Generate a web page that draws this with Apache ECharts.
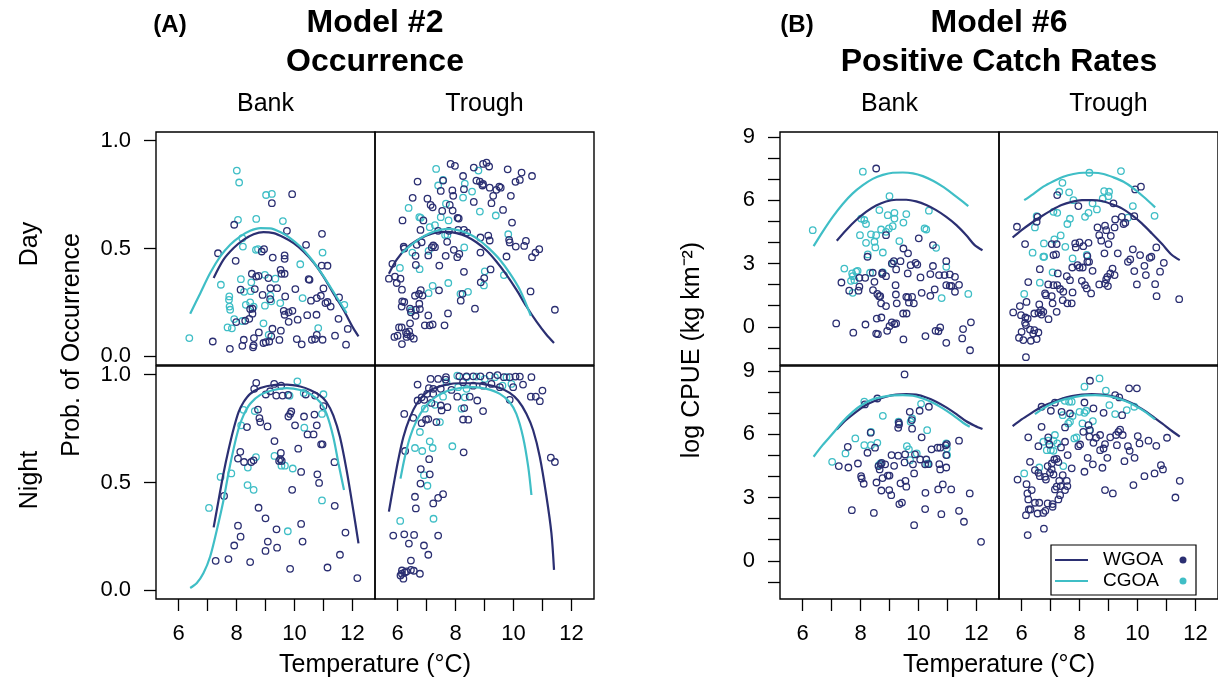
<!DOCTYPE html>
<html>
<head>
  <meta charset="utf-8">
</head>
<body style="margin: 0; width: 1218px; height: 683px; background: #fff;">
  <div id="main" style="width: 1218px; height: 683px;"></div>
  <script src="https://cdn.jsdelivr.net/npm/echarts@6/dist/echarts.min.js"></script>
  <script>
    // axis ticks / labels
    var tempTicks = [6, 7, 8, 9, 10, 11, 12];
    var tempLabels = [6, 8, 10, 12];
    var occTicks = [0, 0.5, 1];
    var cpueTicks = [-1, 0, 1, 2, 3, 4, 5, 6, 7, 8, 9];
    var cpueLabels = [0, 3, 6, 9];

    // ---- (A) Model #2 occurrence : [temperature, probability] ----
    var occBankDayW = [[7.36,0.478],[7.92,0.610],[7.97,0.443],[9.22,0.710],[9.92,0.752],[8.87,0.486],[8.95,0.497],[9.25,0.458],[9.66,0.468],[9.66,0.452],[9.74,0.582],[10.40,0.517],[10.95,0.568],[10.94,0.421],[11.14,0.420],[8.53,0.383],[8.76,0.373],[8.68,0.370],[9.10,0.363],[9.52,0.401],[9.55,0.383],[9.66,0.383],[10.49,0.358],[10.52,0.355],[8.14,0.309],[8.63,0.312],[9.17,0.316],[9.40,0.316],[8.90,0.285],[9.16,0.265],[9.68,0.278],[10.03,0.312],[11.00,0.315],[10.57,0.258],[10.77,0.270],[10.91,0.281],[11.07,0.247],[11.14,0.252],[11.25,0.231],[11.54,0.273],[11.84,0.127],[11.52,0.174],[8.47,0.219],[8.55,0.221],[8.55,0.198],[8.44,0.174],[8.30,0.165],[7.99,0.159],[9.63,0.211],[9.66,0.193],[9.80,0.204],[9.93,0.211],[9.80,0.160],[10.11,0.170],[10.44,0.191],[10.76,0.193],[7.18,0.069],[7.77,0.035],[8.20,0.049],[8.25,0.077],[8.57,0.042],[8.59,0.051],[8.60,0.085],[8.77,0.111],[8.93,0.062],[9.01,0.066],[9.13,0.069],[9.20,0.093],[9.24,0.128],[9.48,0.076],[9.53,0.119],[10.08,0.080],[10.25,0.056],[10.60,0.077],[10.71,0.080],[10.77,0.100],[10.97,0.077],[11.40,0.096],[11.78,0.054]];
    var occBankDayC = [[6.37,0.085],[8.01,0.861],[8.09,0.806],[9.02,0.748],[9.22,0.753],[8.05,0.633],[8.68,0.637],[9.60,0.627],[8.20,0.548],[8.22,0.509],[8.67,0.494],[8.74,0.497],[10.97,0.481],[10.20,0.427],[7.46,0.332],[8.15,0.358],[8.51,0.343],[7.75,0.278],[7.74,0.262],[7.76,0.231],[7.78,0.216],[8.26,0.299],[8.49,0.302],[8.32,0.239],[8.47,0.250],[8.59,0.231],[8.98,0.378],[9.17,0.282],[9.20,0.255],[9.51,0.247],[8.98,0.235],[10.28,0.270],[11.72,0.239],[7.92,0.173],[7.69,0.134],[7.84,0.130],[8.20,0.164],[8.93,0.153],[9.11,0.100],[10.82,0.131],[9.34,0.360]];
    var occBankDayFitW = [[7.21,0.363],[7.55,0.448],[7.90,0.502],[8.24,0.540],[8.59,0.566],[8.93,0.576],[9.28,0.571],[9.62,0.552],[9.97,0.525],[10.31,0.486],[10.66,0.435],[11.00,0.370],[11.34,0.293],[11.69,0.216],[12.03,0.131],[12.21,0.093]];
    var occBankDayFitC = [[6.40,0.198],[6.75,0.293],[7.09,0.386],[7.44,0.463],[7.78,0.517],[8.13,0.556],[8.47,0.582],[8.82,0.594],[9.16,0.593],[9.51,0.576],[9.85,0.548],[10.20,0.509],[10.54,0.458],[10.89,0.394],[11.23,0.324],[11.57,0.250],[11.80,0.201]];

    var occTroughDayW = [[7.83,0.892],[7.98,0.883],[8.95,0.892],[9.07,0.898],[9.16,0.880],[8.63,0.875],[9.80,0.867],[10.28,0.852],[10.64,0.836],[6.69,0.810],[7.57,0.815],[8.26,0.836],[8.72,0.815],[8.84,0.810],[8.95,0.799],[8.93,0.792],[9.18,0.782],[9.41,0.772],[9.51,0.787],[9.56,0.782],[10.07,0.809],[10.22,0.818],[7.49,0.767],[7.89,0.769],[8.29,0.775],[7.92,0.744],[9.30,0.744],[9.91,0.744],[6.52,0.735],[7.03,0.731],[7.14,0.702],[7.21,0.691],[7.80,0.702],[8.63,0.716],[9.24,0.710],[7.54,0.674],[7.90,0.676],[9.64,0.679],[8.07,0.642],[8.11,0.639],[6.17,0.630],[6.89,0.630],[9.95,0.620],[6.79,0.586],[7.40,0.582],[7.77,0.582],[8.09,0.586],[8.29,0.586],[8.40,0.574],[8.86,0.551],[9.13,0.560],[9.85,0.540],[9.87,0.528],[10.08,0.509],[10.37,0.512],[10.43,0.535],[10.89,0.497],[10.76,0.481],[10.64,0.460],[9.76,0.463],[9.18,0.537],[7.71,0.531],[6.66,0.517],[6.83,0.529],[6.21,0.508],[6.23,0.500],[7.23,0.514],[7.29,0.506],[7.18,0.505],[7.06,0.468],[6.62,0.466],[7.94,0.494],[8.13,0.475],[8.06,0.460],[8.86,0.481],[7.66,0.466],[5.82,0.429],[6.63,0.424],[7.44,0.421],[8.29,0.392],[9.21,0.403],[5.70,0.360],[5.91,0.370],[6.10,0.360],[5.97,0.340],[6.15,0.309],[7.43,0.306],[8.87,0.343],[8.99,0.363],[10.59,0.301],[6.60,0.281],[6.74,0.289],[6.80,0.307],[6.86,0.282],[6.16,0.255],[6.23,0.252],[6.14,0.231],[6.75,0.244],[6.43,0.221],[6.63,0.216],[6.77,0.219],[6.46,0.204],[6.62,0.188],[7.06,0.190],[7.74,0.199],[8.18,0.258],[8.24,0.290],[8.67,0.221],[11.43,0.216],[6.94,0.144],[7.11,0.144],[7.21,0.148],[7.62,0.144],[6.05,0.134],[6.14,0.134],[6.43,0.153],[5.89,0.090],[6.00,0.096],[6.29,0.111],[6.33,0.103],[6.40,0.116],[6.45,0.093],[6.31,0.090],[6.56,0.082],[6.15,0.057]];
    var occTroughDayC = [[7.33,0.869],[8.79,0.861],[7.57,0.818],[7.40,0.792],[8.32,0.801],[8.57,0.764],[8.26,0.736],[6.38,0.688],[7.67,0.708],[6.75,0.645],[6.80,0.642],[7.49,0.645],[7.76,0.630],[8.84,0.671],[9.39,0.653],[7.11,0.599],[7.29,0.608],[7.64,0.563],[7.72,0.562],[9.82,0.566],[6.51,0.481],[7.07,0.489],[8.30,0.505],[6.08,0.410],[6.76,0.404],[9.01,0.394],[9.67,0.377],[8.98,0.329],[7.21,0.327],[7.07,0.293],[7.75,0.340],[8.17,0.290],[8.43,0.299],[6.47,0.213]];
    var occTroughDayFitW = [[5.70,0.383],[5.97,0.448],[6.31,0.502],[6.66,0.537],[7.00,0.560],[7.34,0.574],[7.69,0.577],[8.03,0.571],[8.38,0.556],[8.72,0.529],[9.07,0.491],[9.41,0.440],[9.76,0.378],[10.10,0.309],[10.45,0.231],[10.79,0.162],[11.14,0.100],[11.40,0.062]];
    var occTroughDayFitC = [[6.14,0.478],[6.43,0.512],[6.77,0.546],[7.11,0.571],[7.46,0.586],[7.80,0.591],[8.15,0.583],[8.49,0.566],[8.84,0.537],[9.18,0.497],[9.53,0.448],[9.87,0.386],[10.22,0.309],[10.60,0.188]];

    var occBankNightW = [[8.68,0.962],[8.61,0.934],[9.30,0.957],[9.54,0.949],[9.37,0.903],[9.59,0.903],[9.78,0.906],[9.01,0.908],[9.16,0.923],[10.39,0.908],[10.71,0.903],[11.00,0.854],[9.85,0.818],[9.89,0.829],[8.79,0.798],[8.74,0.838],[8.82,0.780],[9.07,0.760],[9.79,0.806],[10.33,0.806],[10.69,0.815],[10.77,0.765],[8.36,0.757],[8.13,0.642],[8.05,0.611],[8.26,0.595],[8.51,0.595],[8.59,0.603],[9.31,0.692],[9.53,0.637],[9.51,0.608],[9.47,0.600],[9.56,0.600],[10.13,0.657],[10.45,0.723],[10.66,0.723],[10.92,0.677],[10.97,0.677],[10.23,0.549],[10.79,0.538],[10.85,0.498],[11.38,0.594],[10.02,0.765],[7.57,0.438],[8.76,0.383],[9.00,0.334],[9.92,0.466],[11.39,0.392],[8.05,0.300],[8.14,0.249],[7.92,0.208],[9.00,0.183],[9.08,0.226],[9.38,0.283],[9.40,0.198],[10.23,0.308],[10.28,0.226],[11.76,0.268],[7.28,0.137],[7.72,0.145],[8.47,0.131],[9.85,0.100],[11.14,0.106],[11.57,0.165],[12.17,0.057]];
    var occBankNightC = [[10.10,0.969],[10.32,0.915],[11.00,0.909],[9.83,0.902],[8.24,0.837],[8.16,0.765],[8.63,0.831],[10.95,0.818],[10.34,0.754],[8.67,0.618],[8.39,0.569],[9.31,0.623],[9.55,0.578],[9.67,0.578],[9.94,0.565],[7.45,0.526],[7.82,0.542],[8.38,0.488],[8.59,0.466],[7.05,0.382],[10.95,0.417],[9.77,0.274]];
    var occBankNightFitW = [[7.21,0.292],[7.38,0.418],[7.55,0.542],[7.72,0.649],[7.90,0.749],[8.07,0.826],[8.24,0.872],[8.47,0.911],[8.82,0.938],[9.28,0.952],[9.74,0.954],[10.20,0.945],[10.54,0.929],[10.89,0.903],[11.11,0.872],[11.34,0.811],[11.57,0.711],[11.80,0.557],[12.03,0.372],[12.21,0.218]];
    var occBankNightFitC = [[6.40,0.011],[6.63,0.034],[6.86,0.080],[7.09,0.157],[7.32,0.280],[7.55,0.418],[7.72,0.542],[7.90,0.657],[8.07,0.749],[8.24,0.811],[8.47,0.865],[8.82,0.906],[9.28,0.929],[9.74,0.937],[10.20,0.929],[10.54,0.911],[10.89,0.872],[11.11,0.818],[11.34,0.711],[11.52,0.588],[11.71,0.465]];

    var occTroughNightW = [[7.14,0.980],[7.40,0.980],[7.67,0.988],[7.66,0.977],[8.13,0.992],[8.38,0.992],[8.61,0.992],[8.86,0.992],[9.18,0.995],[9.45,0.998],[9.67,0.988],[9.87,0.988],[10.07,0.991],[10.22,0.991],[10.62,0.988],[6.69,0.954],[7.08,0.937],[7.23,0.934],[7.49,0.934],[7.86,0.929],[8.26,0.965],[8.61,0.949],[8.95,0.949],[9.24,0.957],[9.53,0.942],[9.99,0.942],[10.33,0.954],[7.02,0.911],[7.23,0.911],[6.83,0.895],[6.69,0.880],[6.92,0.883],[7.17,0.869],[7.49,0.857],[7.72,0.849],[8.06,0.898],[8.49,0.898],[8.75,0.880],[8.95,0.831],[9.87,0.883],[10.60,0.898],[10.77,0.898],[10.91,0.877],[11.00,0.926],[6.23,0.818],[6.54,0.800],[6.83,0.775],[6.98,0.791],[7.06,0.794],[7.34,0.780],[7.52,0.834],[8.26,0.792],[8.44,0.791],[8.30,0.845],[6.26,0.646],[7.09,0.608],[6.80,0.562],[7.11,0.538],[6.79,0.495],[7.23,0.403],[7.40,0.429],[7.57,0.446],[6.60,0.434],[6.63,0.380],[8.28,0.640],[11.29,0.615],[11.43,0.595],[5.85,0.254],[6.23,0.260],[6.57,0.257],[7.40,0.254],[6.39,0.217],[6.91,0.208],[7.06,0.165],[6.46,0.138],[6.15,0.092],[6.25,0.083],[6.31,0.088],[6.46,0.095],[6.56,0.091],[6.77,0.077],[6.10,0.069],[6.20,0.054],[6.15,0.077]];
    var occTroughNightC = [[8.06,0.995],[8.38,0.988],[8.72,0.991],[9.01,0.980],[9.36,0.988],[9.76,0.988],[7.69,0.965],[8.09,0.942],[8.38,0.934],[9.62,0.949],[9.93,0.957],[7.57,0.898],[8.32,0.895],[7.29,0.860],[6.94,0.842],[7.46,0.780],[8.21,0.842],[6.77,0.734],[7.11,0.691],[6.60,0.660],[6.85,0.646],[7.21,0.660],[7.89,0.668],[6.91,0.534],[7.03,0.485],[6.09,0.322],[7.24,0.332]];
    var occTroughNightFitW = [[5.70,0.365],[5.85,0.480],[6.02,0.603],[6.20,0.711],[6.43,0.803],[6.66,0.865],[6.94,0.911],[7.29,0.938],[7.69,0.954],[8.15,0.960],[8.61,0.960],[9.07,0.954],[9.53,0.938],[9.87,0.915],[10.16,0.880],[10.45,0.818],[10.68,0.742],[10.91,0.618],[11.14,0.434],[11.31,0.265],[11.40,0.095]];
    var occTroughNightFitC = [[6.10,0.518],[6.25,0.618],[6.43,0.711],[6.66,0.788],[6.94,0.849],[7.29,0.895],[7.69,0.923],[8.15,0.938],[8.61,0.942],[9.07,0.934],[9.53,0.911],[9.87,0.872],[10.10,0.818],[10.33,0.711],[10.51,0.572],[10.62,0.442]];

    // ---- (B) Model #6 positive catch rates : [temperature, log CPUE] ----
    var cpueBankDayW = [[8.54,7.50],[8.88,4.34],[10.01,4.19],[10.50,3.87],[9.48,3.71],[9.64,3.48],[8.24,3.32],[9.15,3.11],[9.08,3.00],[9.38,3.11],[9.73,2.92],[9.90,3.03],[9.96,2.95],[10.50,2.88],[10.96,3.11],[7.34,2.10],[7.61,1.71],[7.96,2.32],[8.16,2.32],[8.42,2.56],[8.48,2.13],[8.75,2.56],[8.75,2.50],[9.23,2.72],[9.63,2.53],[10.07,2.34],[10.41,2.50],[10.71,2.45],[10.90,2.45],[11.08,2.48],[11.26,2.37],[11.40,1.99],[10.96,1.97],[11.08,1.94],[11.14,1.94],[11.26,1.66],[10.56,1.77],[10.41,1.47],[10.11,1.61],[9.21,1.97],[8.88,2.40],[8.58,1.56],[8.64,1.45],[8.68,1.45],[8.43,1.74],[8.71,1.11],[8.88,0.98],[9.22,1.53],[9.25,1.11],[9.58,1.42],[9.67,1.15],[9.64,1.39],[9.78,1.42],[9.84,1.11],[9.47,0.63],[9.59,0.63],[7.16,0.16],[7.75,-0.28],[8.17,0.11],[8.56,0.39],[8.72,0.44],[8.54,-0.32],[8.60,-0.35],[8.92,-0.19],[9.00,0.03],[9.08,0.21],[9.17,0.13],[9.23,0.16],[9.48,-0.60],[10.24,-0.44],[10.59,-0.19],[10.69,-0.21],[10.75,-0.03],[10.96,-0.76],[11.54,-0.11],[11.51,-0.55],[11.78,-1.11],[11.81,0.21],[7.96,1.90],[7.93,1.71]];
    var cpueBankDayC = [[6.35,4.58],[8.08,7.35],[9.00,6.19],[8.02,5.13],[8.13,5.06],[8.19,4.87],[8.65,5.53],[8.94,5.29],[9.17,5.40],[9.17,5.13],[9.58,5.34],[9.48,4.94],[10.36,5.50],[7.98,4.34],[8.36,4.38],[8.54,4.34],[8.71,4.61],[8.88,4.50],[8.98,4.66],[9.11,4.77],[9.34,4.06],[8.48,4.03],[8.19,3.98],[8.51,3.76],[8.77,3.52],[8.25,3.43],[10.21,4.66],[10.27,4.61],[10.61,3.74],[7.44,2.76],[7.71,2.53],[7.73,2.40],[7.79,2.21],[7.85,2.61],[7.67,2.18],[7.90,2.65],[8.33,2.56],[8.77,2.58],[9.11,3.00],[10.96,2.84],[7.73,1.61],[10.80,1.36],[11.72,1.56]];
    var cpueBankDayFitW = [[7.18,4.08],[7.50,4.58],[7.85,5.06],[8.19,5.45],[8.54,5.75],[8.88,5.94],[9.23,6.02],[9.58,6.02],[9.92,5.94],[10.27,5.77],[10.61,5.53],[10.96,5.21],[11.31,4.82],[11.65,4.34],[11.94,3.87],[12.21,3.63]];
    var cpueBankDayFitC = [[6.38,3.82],[6.69,4.50],[7.04,5.21],[7.38,5.81],[7.73,6.32],[8.08,6.71],[8.42,7.01],[8.77,7.20],[9.11,7.30],[9.46,7.31],[9.81,7.27],[10.15,7.14],[10.50,6.92],[10.84,6.64],[11.19,6.29],[11.54,5.92],[11.72,5.72]];

    var cpueTroughDayW = [[9.92,6.51],[10.12,6.64],[7.23,6.24],[7.96,5.72],[9.17,5.85],[5.84,4.74],[6.52,4.98],[6.55,5.21],[7.04,3.92],[6.12,3.92],[7.21,3.92],[7.10,3.40],[7.85,3.95],[8.00,4.00],[8.13,3.82],[8.31,3.98],[7.87,3.76],[8.62,4.71],[8.88,4.79],[9.21,4.71],[9.23,5.09],[9.46,5.21],[9.52,4.87],[9.58,4.93],[9.89,5.24],[8.68,4.34],[8.92,4.58],[9.08,4.31],[8.75,4.08],[9.00,3.92],[8.86,3.48],[9.32,3.48],[9.84,3.67],[10.09,3.40],[10.42,3.27],[10.48,3.32],[10.65,3.76],[10.91,3.03],[9.67,3.08],[9.75,3.19],[10.24,2.89],[9.89,2.64],[10.78,2.61],[10.29,2.45],[9.98,2.01],[10.61,2.02],[10.66,1.45],[11.44,1.31],[7.19,3.43],[8.27,3.35],[8.27,3.08],[8.33,3.08],[7.75,2.81],[7.93,2.92],[8.00,2.81],[8.11,2.81],[8.45,2.65],[9.14,2.76],[9.06,2.53],[9.21,2.45],[8.96,2.37],[8.92,2.24],[8.88,2.05],[8.98,1.93],[7.56,2.40],[7.67,2.21],[8.08,2.18],[8.19,1.97],[8.25,1.82],[8.40,1.58],[8.68,2.01],[6.63,2.73],[6.23,2.12],[7.25,2.53],[6.92,2.01],[7.10,1.97],[7.23,1.97],[7.33,1.79],[7.44,1.66],[7.76,1.63],[7.04,1.45],[7.42,1.26],[7.58,1.11],[7.73,1.11],[7.07,1.11],[6.81,1.58],[6.84,1.50],[6.61,1.06],[6.67,0.79],[6.75,0.71],[6.44,0.63],[6.17,1.18],[5.94,0.98],[5.71,0.68],[5.98,0.55],[6.13,0.44],[6.21,0.39],[6.12,0.19],[6.15,0.08],[6.00,-0.24],[6.29,-0.13],[6.44,-0.16],[6.58,-0.27],[6.40,-0.32],[6.32,-0.66],[6.52,-0.58],[5.91,-0.52],[6.06,-0.63],[6.15,-1.44],[7.21,0.71],[6.93,0.36],[6.58,0.66],[6.69,0.58]];
    var cpueTroughDayC = [[8.34,7.30],[9.43,7.38],[7.41,6.82],[7.30,6.40],[7.64,6.37],[8.85,6.43],[9.02,6.40],[9.00,6.19],[8.80,6.08],[7.79,6.00],[8.45,5.85],[8.60,5.56],[8.31,5.40],[8.19,5.21],[9.84,5.72],[7.10,5.45],[7.23,5.40],[6.52,5.24],[6.46,4.71],[7.67,5.12],[7.58,4.87],[7.35,4.33],[7.13,4.14],[6.77,3.95],[7.51,3.79],[6.38,3.51],[6.75,3.32],[6.78,3.32],[7.76,3.24],[8.25,3.41],[7.07,2.58],[6.63,2.09],[6.09,1.56],[9.67,5.17],[10.59,5.26]];
    var cpueTroughDayFitW = [[5.69,4.23],[6.00,4.58],[6.35,4.93],[6.69,5.24],[7.04,5.53],[7.38,5.77],[7.73,5.92],[8.08,6.00],[8.42,6.00],[8.77,5.96],[9.11,5.81],[9.46,5.61],[9.81,5.29],[10.15,4.90],[10.50,4.42],[10.85,3.92],[11.19,3.40],[11.46,3.16]];
    var cpueTroughDayFitC = [[6.09,6.00],[6.40,6.29],[6.75,6.64],[7.10,6.90],[7.44,7.11],[7.79,7.24],[8.13,7.30],[8.48,7.30],[8.83,7.24],[9.17,7.08],[9.52,6.87],[9.86,6.56],[10.21,6.16],[10.61,5.66]];

    var cpueBankNightW = [[9.52,8.83],[8.58,7.69],[8.15,7.41],[10.04,7.11],[10.36,7.30],[9.77,6.67],[9.70,7.06],[9.32,6.54],[9.33,6.46],[9.30,6.30],[9.78,6.26],[10.11,5.85],[8.35,6.07],[8.50,5.36],[8.24,5.12],[7.56,5.40],[11.40,5.69],[10.98,5.53],[10.94,5.47],[10.66,5.36],[10.45,5.28],[10.35,4.58],[10.27,4.80],[9.88,5.04],[9.54,5.04],[9.30,4.98],[9.07,5.01],[9.52,4.66],[9.81,4.57],[9.16,4.50],[8.73,4.64],[8.70,4.58],[8.85,4.57],[8.62,4.49],[7.91,4.61],[7.25,4.49],[7.58,4.42],[8.66,4.33],[10.06,4.80],[10.23,4.57],[10.72,4.58],[10.75,4.33],[10.96,4.42],[10.96,5.01],[10.75,5.36],[8.02,4.01],[8.04,3.90],[8.11,3.65],[8.55,3.71],[8.76,3.92],[8.94,4.04],[9.00,4.04],[9.38,3.67],[9.58,3.51],[9.85,4.14],[9.55,3.79],[8.99,3.35],[9.06,3.11],[8.72,3.33],[10.84,3.62],[10.68,3.38],[11.13,3.38],[11.77,3.19],[7.70,2.40],[8.46,2.27],[9.34,2.69],[9.43,2.76],[10.23,2.45],[10.24,3.22],[10.79,2.21],[11.40,2.37],[11.57,1.85],[9.85,1.69],[12.16,0.90]];
    var cpueBankNightC = [[8.13,7.54],[8.77,6.87],[9.31,6.59],[9.73,6.59],[9.78,6.75],[10.09,7.44],[10.30,6.19],[8.36,6.11],[7.82,5.80],[8.13,5.48],[8.36,5.48],[8.58,5.59],[7.48,5.09],[7.02,4.69],[9.60,5.43],[9.67,5.28],[9.94,5.09],[9.71,4.77],[10.30,4.58],[10.96,5.56],[10.98,5.32],[10.99,5.01],[8.63,4.53],[8.69,4.61],[10.34,4.61]];
    var cpueBankNightFitW = [[7.18,6.22],[7.50,6.67],[7.85,7.06],[8.19,7.38],[8.54,7.61],[8.88,7.77],[9.23,7.87],[9.58,7.90],[9.92,7.87],[10.27,7.74],[10.61,7.54],[10.96,7.27],[11.31,6.95],[11.65,6.61],[11.94,6.40],[12.21,6.24]];
    var cpueBankNightFitC = [[6.38,4.93],[6.69,5.48],[7.04,6.03],[7.38,6.59],[7.73,7.06],[8.08,7.42],[8.42,7.65],[8.77,7.77],[9.11,7.84],[9.46,7.85],[9.81,7.82],[10.15,7.69],[10.50,7.49],[10.84,7.22],[11.19,6.90],[11.54,6.54],[11.77,6.35]];

    var cpueTroughNightW = [[8.36,8.53],[9.71,8.17],[9.98,8.17],[9.23,7.85],[9.37,7.74],[6.69,7.30],[7.15,7.49],[7.01,7.11],[7.38,7.06],[8.17,7.50],[8.48,7.22],[8.83,7.01],[9.47,6.90],[7.67,6.98],[7.50,6.32],[6.69,6.35],[8.31,6.43],[8.13,6.11],[8.36,6.19],[8.71,5.96],[9.06,5.85],[9.26,5.96],[9.40,6.22],[9.34,6.11],[9.49,5.96],[10.01,5.91],[10.38,5.69],[11.02,5.83],[10.07,5.56],[10.65,5.45],[9.67,5.43],[9.73,5.21],[9.29,5.48],[8.88,5.53],[8.83,5.32],[8.71,5.24],[8.57,5.83],[8.48,5.59],[8.34,5.88],[8.02,5.51],[7.96,5.43],[6.23,5.85],[6.58,5.43],[6.92,5.85],[7.50,5.64],[7.36,5.37],[6.96,5.51],[6.29,4.69],[6.46,4.30],[6.58,4.17],[6.63,4.01],[6.90,4.49],[7.04,4.61],[7.13,4.80],[7.21,4.83],[7.27,4.68],[7.04,4.33],[7.10,4.09],[6.98,4.17],[6.81,3.98],[6.84,3.85],[7.42,4.06],[7.30,3.79],[7.21,3.51],[7.35,3.54],[7.56,3.79],[7.58,3.54],[7.50,3.35],[7.73,4.38],[7.59,5.01],[8.28,4.88],[8.46,4.57],[8.79,4.41],[8.96,4.88],[9.55,4.72],[9.90,4.88],[10.24,4.01],[10.59,4.14],[10.81,4.53],[10.88,4.33],[9.86,3.59],[11.46,3.79],[11.31,3.00],[8.88,3.35],[9.15,3.19],[8.17,4.22],[7.15,3.38],[7.33,3.11],[7.27,2.91],[6.90,2.72],[7.07,2.69],[6.46,2.75],[6.61,2.75],[6.25,2.43],[6.15,2.16],[6.31,2.43],[6.75,2.27],[6.55,2.24],[6.82,2.37],[5.86,3.85],[6.17,3.63],[6.35,3.35],[6.20,3.19],[6.23,2.91],[6.77,1.52],[6.21,1.22],[7.07,2.56]];
    var cpueTroughNightC = [[8.69,8.64],[8.17,8.25],[8.91,8.06],[9.03,7.38],[9.63,7.14],[9.89,7.30],[7.49,7.58],[7.64,7.54],[7.73,7.54],[8.17,7.01],[9.23,6.95],[7.42,6.90],[7.76,6.86],[8.00,7.06],[8.23,7.11],[7.61,6.51],[7.67,6.59],[8.10,6.51],[8.46,6.62],[8.34,6.19],[7.90,5.85],[7.82,5.80],[7.15,5.96],[7.10,5.69],[6.92,5.69],[6.75,5.64],[7.01,5.24],[7.10,5.21],[6.87,5.24],[7.23,5.56],[6.61,4.42],[6.09,4.14],[7.44,4.49]];
    var cpueTroughNightFitW = [[5.69,6.38],[6.00,6.70],[6.35,7.01],[6.69,7.30],[7.04,7.50],[7.38,7.68],[7.73,7.80],[8.08,7.87],[8.42,7.90],[8.77,7.88],[9.11,7.80],[9.46,7.66],[9.81,7.46],[10.15,7.19],[10.50,6.87],[10.85,6.51],[11.19,6.15],[11.46,5.88]];
    var cpueTroughNightFitC = [[6.46,6.95],[6.81,7.27],[7.15,7.50],[7.50,7.66],[7.85,7.77],[8.19,7.84],[8.54,7.85],[8.88,7.82],[9.23,7.73],[9.58,7.57],[9.92,7.35],[10.27,7.06],[10.61,6.70]];

    var navy = '#2b2f72';
    var cyan = '#3fbec6';
    var font = '"Liberation Sans", Arial, Helvetica, sans-serif';

    var dom = document.getElementById('main');
    var myChart = echarts.init(dom, null, { renderer: 'canvas' });

    // panel layout: 2 blocks x (2 columns x 2 rows)
    var panels = [
      { left: 156, top: 132, kind: 'occ', first: true,  bottom: false, w: occBankDayW, c: occBankDayC, fw: occBankDayFitW, fc: occBankDayFitC },
      { left: 375, top: 132, kind: 'occ', first: false, bottom: false, w: occTroughDayW, c: occTroughDayC, fw: occTroughDayFitW, fc: occTroughDayFitC },
      { left: 156, top: 366, kind: 'occ', first: true,  bottom: true,  w: occBankNightW, c: occBankNightC, fw: occBankNightFitW, fc: occBankNightFitC },
      { left: 375, top: 366, kind: 'occ', first: false, bottom: true,  w: occTroughNightW, c: occTroughNightC, fw: occTroughNightFitW, fc: occTroughNightFitC },
      { left: 780, top: 132, kind: 'cpue', first: true,  bottom: false, w: cpueBankDayW, c: cpueBankDayC, fw: cpueBankDayFitW, fc: cpueBankDayFitC },
      { left: 999, top: 132, kind: 'cpue', first: false, bottom: false, w: cpueTroughDayW, c: cpueTroughDayC, fw: cpueTroughDayFitW, fc: cpueTroughDayFitC },
      { left: 780, top: 366, kind: 'cpue', first: true,  bottom: true,  w: cpueBankNightW, c: cpueBankNightC, fw: cpueBankNightFitW, fc: cpueBankNightFitC },
      { left: 999, top: 366, kind: 'cpue', first: false, bottom: true,  w: cpueTroughNightW, c: cpueTroughNightC, fw: cpueTroughNightFitW, fc: cpueTroughNightFitC }
    ];

    var grids = [], xAxes = [], yAxes = [], series = [];
    var tickStyle = { color: '#000', width: 1.3 };
    var labelStyle = { color: '#000', fontSize: 22, fontFamily: font };

    panels.forEach(function (p, i) {
      grids.push({
        left: p.left, top: p.top, width: 219, height: 233,
        show: true, borderColor: '#000', borderWidth: 1.4, backgroundColor: 'transparent',
        outerBoundsMode: 'none'
      });
      xAxes.push({
        type: 'value', gridIndex: i, min: 5.22, max: 12.78, position: 'bottom',
        axisLine: { show: false, onZero: false }, splitLine: { show: false },
        axisTick: { show: p.bottom, length: 12, customValues: tempTicks, lineStyle: tickStyle },
        axisLabel: Object.assign({ show: p.bottom, margin: 24, customValues: tempLabels }, labelStyle)
      });
      var occ = p.kind === 'occ';
      yAxes.push({
        type: 'value', gridIndex: i, position: 'left',
        min: occ ? -0.04 : -1.81, max: occ ? 1.04 : 9.23,
        axisLine: { show: false, onZero: false }, splitLine: { show: false },
        axisTick: { show: p.first, length: 12, customValues: occ ? occTicks : cpueTicks, lineStyle: tickStyle },
        axisLabel: Object.assign({
          show: p.first, margin: 25, customValues: occ ? occTicks : cpueLabels,
          formatter: function (v) { return occ ? v.toFixed(1) : String(v); }
        }, labelStyle)
      });
      [[p.c, cyan], [p.w, navy]].forEach(function (s) {
        series.push({
          type: 'scatter', xAxisIndex: i, yAxisIndex: i, data: s[0],
          symbol: 'circle', symbolSize: 6.5, z: 2,
          itemStyle: { color: 'rgba(0,0,0,0)', borderColor: s[1], borderWidth: 1.3, opacity: 1 }
        });
      });
      [[p.fw, navy], [p.fc, cyan]].forEach(function (s) {
        series.push({
          type: 'line', xAxisIndex: i, yAxisIndex: i, data: s[0],
          smooth: 0.3, showSymbol: false, z: 3,
          lineStyle: { color: s[1], width: 2.2 }
        });
      });
    });

    function txt(x, y, text, size, bold, rot) {
      return {
        type: 'text', x: x, y: y, rotation: rot ? Math.PI / 2 : 0, z: 100,
        style: {
          text: text, fill: '#000', fontSize: size, fontFamily: font,
          fontWeight: bold ? 'bold' : 'normal', align: 'center', verticalAlign: 'middle'
        }
      };
    }

    var graphics = [
      txt(170, 25, '(A)', 24, true),
      txt(375, 23, 'Model #2', 32, true),
      txt(375, 62, 'Occurrence', 32, true),
      txt(265.5, 104, 'Bank', 25),
      txt(484.5, 104, 'Trough', 25),
      txt(797, 25, '(B)', 24, true),
      txt(999, 23, 'Model #6', 32, true),
      txt(999, 62, 'Positive Catch Rates', 32, true),
      txt(889.5, 104, 'Bank', 25),
      txt(1108.5, 104, 'Trough', 25),
      txt(30, 244, 'Day', 25, false, true),
      txt(30, 480, 'Night', 25, false, true),
      txt(72, 345, 'Prob. of Occurrence', 25, false, true),
      txt(692, 350, 'log CPUE (kg km\u207B\u00B2)', 25, false, true),
      txt(375, 665, 'Temperature (\u00B0C)', 25),
      txt(999, 665, 'Temperature (\u00B0C)', 25),
      // legend
      { type: 'rect', z: 100, shape: { x: 1051, y: 545, width: 145, height: 50 },
        style: { fill: '#fff', stroke: '#000', lineWidth: 1.2 } },
      { type: 'line', z: 101, shape: { x1: 1055, y1: 560, x2: 1088, y2: 560 }, style: { stroke: navy, lineWidth: 2 } },
      { type: 'line', z: 101, shape: { x1: 1055, y1: 581, x2: 1088, y2: 581 }, style: { stroke: cyan, lineWidth: 2 } },
      { type: 'text', z: 101, x: 1103, y: 560, style: { text: 'WGOA', fill: '#000', fontSize: 19, fontFamily: font, verticalAlign: 'middle' } },
      { type: 'text', z: 101, x: 1103, y: 581, style: { text: 'CGOA', fill: '#000', fontSize: 19, fontFamily: font, verticalAlign: 'middle' } },
      { type: 'circle', z: 101, shape: { cx: 1183, cy: 560, r: 3.5 }, style: { fill: navy } },
      { type: 'circle', z: 101, shape: { cx: 1183, cy: 581, r: 3.5 }, style: { fill: cyan } }
    ];

    var option = {
      animation: false,
      backgroundColor: '#fff',
      grid: grids,
      xAxis: xAxes,
      yAxis: yAxes,
      series: series,
      graphic: graphics
    };

    myChart.setOption(option);
  </script>
</body>
</html>
